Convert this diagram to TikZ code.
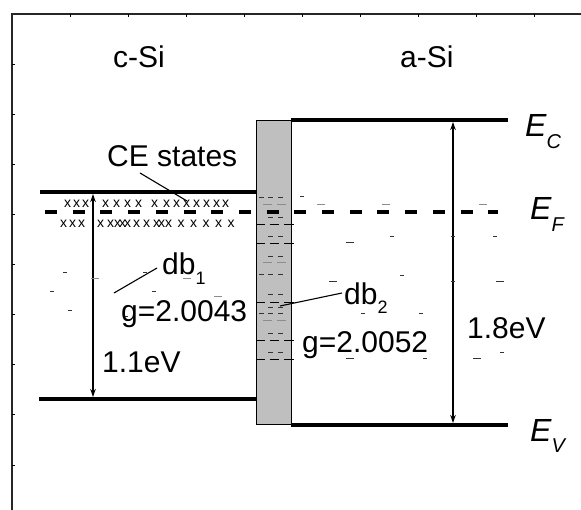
\documentclass[tikz,border=0pt]{standalone}
\usepackage{fontspec}
\setmainfont{Liberation Sans}
\usetikzlibrary{arrows.meta}

\begin{document}
\begin{tikzpicture}[x=1pt,y=-1pt,
  lbl/.style={inner sep=0pt,anchor=base west,font=\fontsize{30}{36}\selectfont},
  elbl/.style={inner sep=0pt,anchor=base west,font=\fontsize{32}{38}\selectfont\itshape},
  xm/.style={inner sep=0pt,anchor=base west,font=\fontsize{14}{16}\selectfont},
  band/.style={line width=3.6pt},
  fermi/.style={line width=4pt,dash pattern=on 12pt off 15.7pt},
  gap/.style={line width=1.3pt,{Stealth[length=8pt,width=5.5pt]}-{Stealth[length=8pt,width=5.5pt]}},
  lead/.style={line width=1.1pt},
  tk/.style={line width=1pt},
  sd/.style={line width=1pt,black!80},
  gd/.style={line width=1pt,black!45},
  fd/.style={line width=0.8pt,black},
]
\useasboundingbox (0,0) rectangle (581,510);

% axis frame with small ticks
\draw[line width=2pt,black!85] (11.5,510) -- (11.5,14) -- (581,14);
\foreach \y in {65,115,...,465} \draw[tk] (11.5,\y) -- (14.5,\y);
\foreach \x in {70,128,...,540} \draw[tk] (\x,14) -- (\x,17);

% region labels
\node[lbl] (csi) at (113,68) {c-Si};
\node[lbl] (asi) at (400,68) {a-Si};

% interface layer
\node[draw=black,line width=1.3pt,fill=black!25,minimum width=35pt,minimum height=304pt,
      inner sep=0pt,anchor=north west] (ifc) at (256,120) {};

% defect levels inside the interface layer
\foreach \y in {218,237,257,295,308,334,353} {
  \draw[sd] (268,\y) -- (273,\y); \draw[sd] (278,\y) -- (283,\y);
}
\foreach \y in {198,275,314} {
  \draw[sd] (259,\y) -- (264,\y); \draw[sd] (268,\y) -- (273,\y); \draw[sd] (278,\y) -- (283,\y);
}
\foreach \y in {205,263,321} {
  \draw[gd] (263,\y) -- (272,\y); \draw[gd] (277,\y) -- (286,\y);
}
\foreach \y in {224,243,302,340,359} {
  \draw[fd] (257,\y) -- (265,\y); \draw[fd] (270,\y) -- (279,\y); \draw[fd] (284,\y) -- (294,\y);
}

% band edges
\coordinate (cCBl) at (40,192);  \coordinate (cCBr) at (256,192);
\coordinate (cVBl) at (39,399);  \coordinate (cVBr) at (256,399);
\coordinate (aCBl) at (291,120); \coordinate (aCBr) at (508,120);
\coordinate (aVBl) at (291,425); \coordinate (aVBr) at (508,425);
\draw[band] (cCBl) -- (cCBr);
\draw[band] (cVBl) -- (cVBr);
\draw[band] (aCBl) -- (aCBr);
\draw[band] (aVBl) -- (aVBr);

% Fermi level
\coordinate (EFl) at (45,212); \coordinate (EFr) at (498,212);
\draw[fermi] (EFl) -- (EFr);

% band gaps
\coordinate (gc1) at (93,194);  \coordinate (gc2) at (93,397);
\coordinate (ga1) at (453,122); \coordinate (ga2) at (453,423);
\draw[gap] (gc1) -- (gc2);
\draw[gap] (ga1) -- (ga2);

% CE states (x marks)
\foreach \x [count=\i] in {64,73,82,102,113,124,135,151,163,173,183,193,203,213,222}
  \node[xm] (xa\i) at (\x,208) {x};
\foreach \x [count=\i] in {60,69,78,97,107,114,119,124,133,143,153,158,165,177.5,190,202.5,215,227.5}
  \node[xm] (xb\i) at (\x,228) {x};

% scattered dangling-bond states, c-Si
\foreach \x/\y in {65/273,145/273,52/292,154/292,70/311,126/317}
  \draw[sd] (\x-2,\y) -- (\x+2,\y);
\foreach \x/\y in {95/279,187/279,218/297}
  \draw[gd] (\x-4,\y) -- (\x+4,\y);

% scattered dangling-bond states, a-Si
\foreach \x/\y in {302/197,392/237,453/237,495/237,402/276,453/282,363/314,421/314,425/359,502/353}
  \draw[sd] (\x-2,\y) -- (\x+2,\y);
\foreach \x/\y in {350/243,333/282,500/282,350/359,477/359}
  \draw[sd] (\x-4,\y) -- (\x+4,\y);
\foreach \x/\y in {321/205,386/205,483/205}
  \draw[gd] (\x-4,\y) -- (\x+4,\y);

% labels
\node[lbl] (ce) at (107,167) {CE states};
\node[lbl] (db1) at (162,275) {db\raisebox{-10pt}{\fontsize{18}{20}\selectfont 1}};
\node[lbl] (g1) at (121,322) {g=2.0043};
\node[lbl] (e1) at (102,373) {1.1eV};
\node[lbl] (db2) at (344,305) {db\raisebox{-9pt}{\fontsize{18}{20}\selectfont 2}};
\node[lbl] (g2) at (302,353) {g=2.0052};
\node[lbl] (e2) at (467,339) {1.8eV};
\node[elbl] (EC) at (525,137) {E\raisebox{-12pt}{\fontsize{20}{22}\selectfont C}};
\node[elbl] (EF) at (530,220) {E\raisebox{-12pt}{\fontsize{20}{22}\selectfont F}};
\node[elbl] (EV) at (530,442) {E\raisebox{-11pt}{\fontsize{20}{22}\selectfont V}};

% leader lines
\coordinate (ceA) at (140,173); \coordinate (ceB) at (187,201);
\coordinate (d1A) at (157,268); \coordinate (d1B) at (114,293);
\coordinate (d2A) at (342,293); \coordinate (d2B) at (280,306);
\draw[lead] (ceA) -- (ceB);
\draw[lead] (d1A) -- (d1B);
\draw[lead] (d2A) -- (d2B);
\end{tikzpicture}
\end{document}
